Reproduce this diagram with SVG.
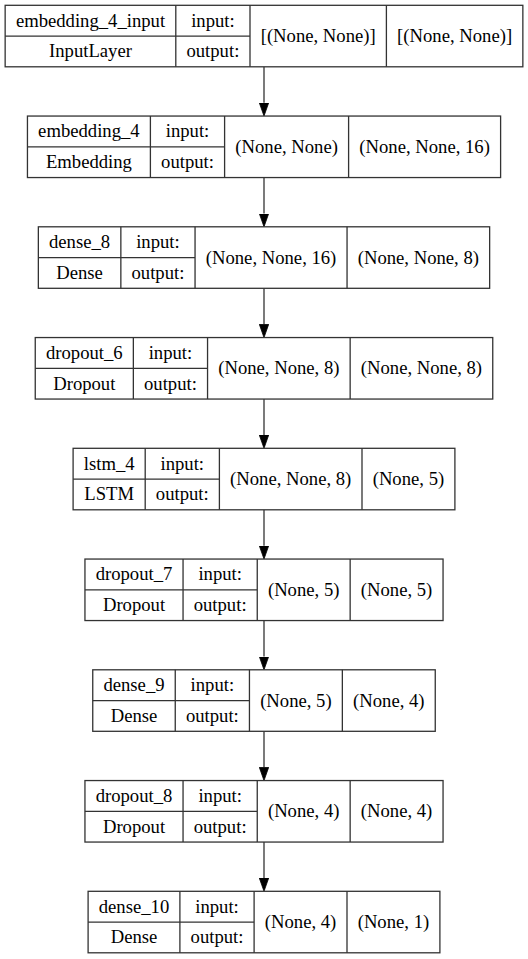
<svg xmlns="http://www.w3.org/2000/svg" width="528" height="959" viewBox="0 0 528 959">
<style>
.b{fill:#fff;stroke:#333;stroke-width:1.3}
.l{stroke:#333;stroke-width:1.3;fill:none}
.t text{font-family:'Liberation Serif',serif;font-size:18.67px;fill:#000;text-anchor:middle}
.e{stroke:#333;stroke-width:1.3;fill:none;marker-end:url(#ah)}
</style>
<defs>
<marker id="ah" markerUnits="userSpaceOnUse" markerWidth="14" markerHeight="10" refX="0" refY="4.7" orient="auto">
<path d="M0,0 L13.3,4.7 L0,9.4 z" fill="#000" stroke="#000" stroke-width="0.8"/>
</marker>
</defs>
<rect width="528" height="959" fill="#fff"/>
<g id="connectors">
<line class="e" x1="264" y1="66.8" x2="264" y2="102.75"/>
<line class="e" x1="264" y1="177.55" x2="264" y2="213.5"/>
<line class="e" x1="264" y1="288.3" x2="264" y2="324.25"/>
<line class="e" x1="264" y1="399.05" x2="264" y2="435"/>
<line class="e" x1="264" y1="509.8" x2="264" y2="545.75"/>
<line class="e" x1="264" y1="620.55" x2="264" y2="656.5"/>
<line class="e" x1="264" y1="731.3" x2="264" y2="767.25"/>
<line class="e" x1="264" y1="842.05" x2="264" y2="878"/>
</g>
<g class="t" font-family="Liberation Serif, serif" font-size="18.67" text-anchor="middle">
<g id="embedding_4_input">
<rect class="b" x="5.15" y="5.3" width="517.7" height="61.5"/>
<path class="l" d="M175.8,5.3V66.8M250,5.3V66.8M386.4,5.3V66.8M5.15,36.05H250"/>
<text x="90.5" y="26.7">embedding_4_input</text>
<text x="90.5" y="57.4">InputLayer</text>
<text x="212.9" y="26.7">input:</text>
<text x="212.9" y="57.4">output:</text>
<text x="318.2" y="42.05">[(None, None)]</text>
<text x="454.6" y="42.05">[(None, None)]</text>
</g>
<g id="embedding_4">
<rect class="b" x="27.45" y="116.05" width="473.15" height="61.5"/>
<path class="l" d="M150.4,116.05V177.55M224.6,116.05V177.55M348.6,116.05V177.55M27.45,146.8H224.6"/>
<text x="88.9" y="137.45">embedding_4</text>
<text x="88.9" y="168.15">Embedding</text>
<text x="187.5" y="137.45">input:</text>
<text x="187.5" y="168.15">output:</text>
<text x="286.6" y="152.8">(None, None)</text>
<text x="424.6" y="152.8">(None, None, 16)</text>
</g>
<g id="dense_8">
<rect class="b" x="38.35" y="226.8" width="451.3" height="61.5"/>
<path class="l" d="M120.85,226.8V288.3M195.05,226.8V288.3M347.05,226.8V288.3M38.35,257.55H195.05"/>
<text x="79.6" y="248.2">dense_8</text>
<text x="79.6" y="278.9">Dense</text>
<text x="157.95" y="248.2">input:</text>
<text x="157.95" y="278.9">output:</text>
<text x="271.05" y="263.55">(None, None, 16)</text>
<text x="418.35" y="263.55">(None, None, 8)</text>
</g>
<g id="dropout_6">
<rect class="b" x="35.25" y="337.55" width="457.5" height="61.5"/>
<path class="l" d="M133.35,337.55V399.05M207.55,337.55V399.05M350.15,337.55V399.05M35.25,368.3H207.55"/>
<text x="84.3" y="358.95">dropout_6</text>
<text x="84.3" y="389.65">Dropout</text>
<text x="170.45" y="358.95">input:</text>
<text x="170.45" y="389.65">output:</text>
<text x="278.85" y="374.3">(None, None, 8)</text>
<text x="421.45" y="374.3">(None, None, 8)</text>
</g>
<g id="lstm_4">
<rect class="b" x="73.1" y="448.3" width="381.8" height="61.5"/>
<path class="l" d="M145.2,448.3V509.8M219.4,448.3V509.8M362,448.3V509.8M73.1,479.05H219.4"/>
<text x="109.15" y="469.7">lstm_4</text>
<text x="109.15" y="500.4">LSTM</text>
<text x="182.3" y="469.7">input:</text>
<text x="182.3" y="500.4">output:</text>
<text x="290.7" y="485.05">(None, None, 8)</text>
<text x="408.45" y="485.05">(None, 5)</text>
</g>
<g id="dropout_7">
<rect class="b" x="84.95" y="559.05" width="358.1" height="61.5"/>
<path class="l" d="M183.05,559.05V620.55M257.25,559.05V620.55M350.15,559.05V620.55M84.95,589.8H257.25"/>
<text x="134" y="580.45">dropout_7</text>
<text x="134" y="611.15">Dropout</text>
<text x="220.15" y="580.45">input:</text>
<text x="220.15" y="611.15">output:</text>
<text x="303.7" y="595.8">(None, 5)</text>
<text x="396.6" y="595.8">(None, 5)</text>
</g>
<g id="dense_9">
<rect class="b" x="92.75" y="669.8" width="342.5" height="61.5"/>
<path class="l" d="M175.25,669.8V731.3M249.45,669.8V731.3M342.35,669.8V731.3M92.75,700.55H249.45"/>
<text x="134" y="691.2">dense_9</text>
<text x="134" y="721.9">Dense</text>
<text x="212.35" y="691.2">input:</text>
<text x="212.35" y="721.9">output:</text>
<text x="295.9" y="706.55">(None, 5)</text>
<text x="388.8" y="706.55">(None, 4)</text>
</g>
<g id="dropout_8">
<rect class="b" x="84.95" y="780.55" width="358.1" height="61.5"/>
<path class="l" d="M183.05,780.55V842.05M257.25,780.55V842.05M350.15,780.55V842.05M84.95,811.3H257.25"/>
<text x="134" y="801.95">dropout_8</text>
<text x="134" y="832.65">Dropout</text>
<text x="220.15" y="801.95">input:</text>
<text x="220.15" y="832.65">output:</text>
<text x="303.7" y="817.3">(None, 4)</text>
<text x="396.6" y="817.3">(None, 4)</text>
</g>
<g id="dense_10">
<rect class="b" x="88.1" y="891.3" width="351.8" height="61.5"/>
<path class="l" d="M179.9,891.3V952.8M254.1,891.3V952.8M347,891.3V952.8M88.1,922.05H254.1"/>
<text x="134" y="912.7">dense_10</text>
<text x="134" y="943.4">Dense</text>
<text x="217" y="912.7">input:</text>
<text x="217" y="943.4">output:</text>
<text x="300.55" y="928.05">(None, 4)</text>
<text x="393.45" y="928.05">(None, 1)</text>
</g>
</g>
</svg>
